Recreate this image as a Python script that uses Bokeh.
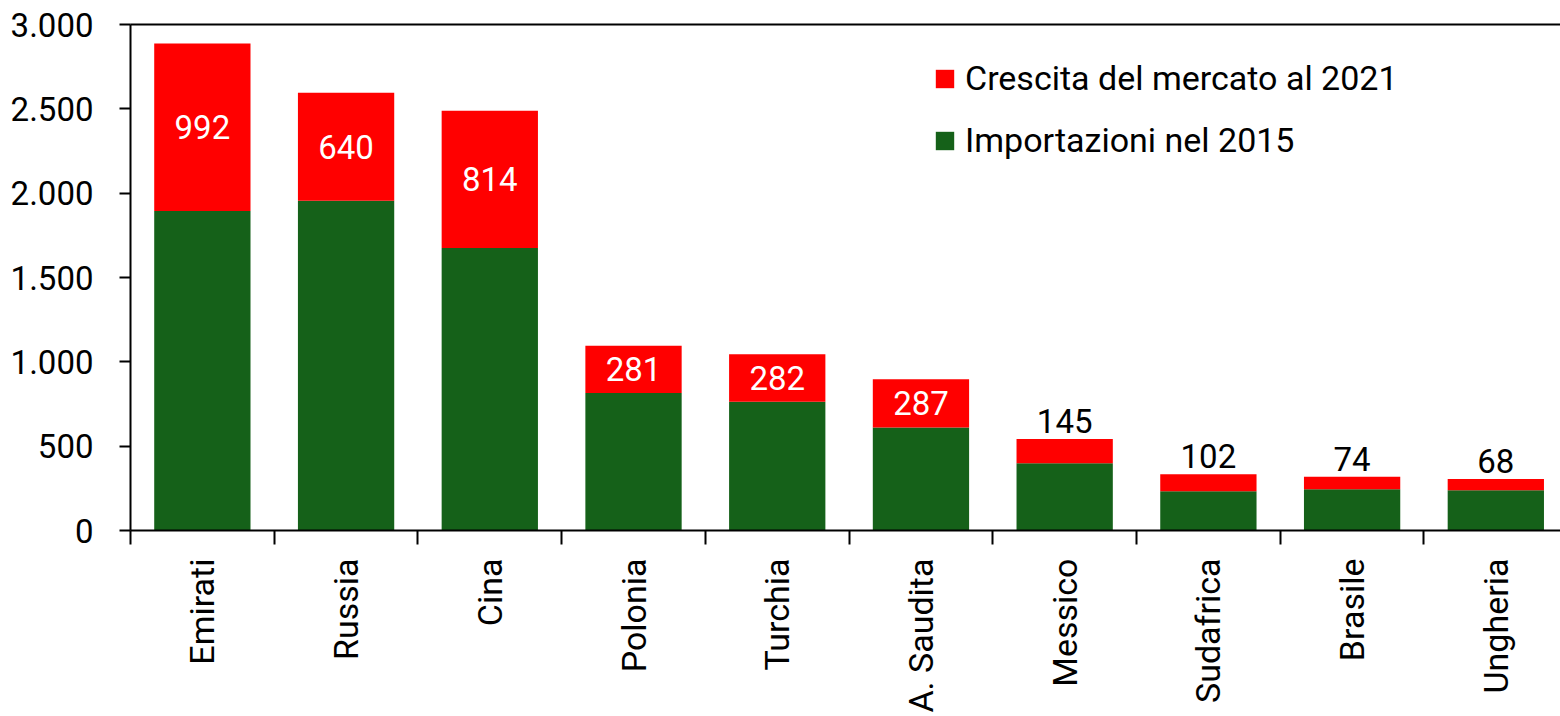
import math
from bokeh.plotting import figure
from bokeh.models import (ColumnDataSource, FixedTicker, LinearAxis, Range1d,
                          Legend, LegendItem)
from bokeh.embed import file_html
from bokeh.resources import INLINE

categories = ["Emirati", "Russia", "Cina", "Polonia", "Turchia", "A. Saudita",
              "Messico", "Sudafrica", "Brasile", "Ungheria"]
imports_2015 = [1895, 1955, 1675, 815, 763, 610, 398, 232, 244, 238]
growth_2021 = [992, 640, 814, 281, 282, 287, 145, 102, 74, 68]
y_ticks = [0, 500, 1000, 1500, 2000, 2500, 3000]
y_tick_labels = ["0", "500", "1.000", "1.500", "2.000", "2.500", "3.000"]
series_names = ["Importazioni nel 2015", "Crescita del mercato al 2021"]

GREEN = "#156119"
RED = "#FF0000"
FONT = "Roboto"

centers = [i + 0.5 for i in range(len(categories))]
src = ColumnDataSource(dict(x=centers, imp=imports_2015, gro=growth_2021))

p = figure(width=1560, height=716, output_backend="svg", toolbar_location=None,
           x_range=Range1d(0, 9.95), y_range=Range1d(0, 3000),
           min_border_left=130, min_border_top=24, min_border_bottom=186,
           min_border_right=0)
p.outline_line_color = None
p.grid.visible = False

rs = p.vbar_stack(["imp", "gro"], x="x", width=0.67, source=src,
                  color=[GREEN, RED], line_color=None)

# data labels
inside = [i for i, g in enumerate(growth_2021) if g > 200]
outside = [i for i, g in enumerate(growth_2021) if g <= 200]
src_in = ColumnDataSource(dict(
    x=[centers[i] for i in inside],
    y=[imports_2015[i] + growth_2021[i] / 2 for i in inside],
    t=[str(growth_2021[i]) for i in inside]))
src_out = ColumnDataSource(dict(
    x=[centers[i] for i in outside],
    y=[imports_2015[i] + growth_2021[i] for i in outside],
    t=[str(growth_2021[i]) for i in outside]))
p.text(x="x", y="y", text="t", source=src_in, text_color="white",
       text_align="center", text_baseline="middle", text_font_size="33px",
       text_font={"value": FONT})
p.text(x="x", y="y", text="t", source=src_out, text_color="black",
       text_align="center", text_baseline="bottom", text_font_size="33px",
       y_offset=-6, text_font={"value": FONT})

# y axis
yax = p.yaxis[0]
yax.ticker = FixedTicker(ticks=y_ticks)
yax.major_label_overrides = {t: l for t, l in zip(y_ticks, y_tick_labels)}
yax.major_tick_out = 11
yax.major_tick_in = 0
yax.minor_tick_line_color = None
yax.major_label_standoff = 26
yax.axis_line_width = 2
yax.major_tick_line_width = 2
yax.axis_line_color = "black"
yax.major_tick_line_color = "black"
yax.major_label_text_font = FONT
yax.major_label_text_font_size = "33px"
yax.major_label_text_color = "black"

# x axis
xax = p.xaxis[0]
xax.ticker = FixedTicker(ticks=centers, minor_ticks=list(range(len(categories) + 1)))
xax.major_label_overrides = {c: n for c, n in zip(centers, categories)}
xax.major_tick_line_color = None
xax.major_tick_out = 14
xax.major_tick_in = 0
xax.minor_tick_out = 14
xax.minor_tick_in = 0
xax.minor_tick_line_color = "black"
xax.minor_tick_line_width = 2
xax.axis_line_width = 2
xax.axis_line_color = "black"
xax.major_label_orientation = math.pi / 2
xax.major_label_standoff = 14
xax.major_label_text_font = FONT
xax.major_label_text_font_size = "34px"
xax.major_label_text_color = "black"

# top border line
top = LinearAxis(ticker=FixedTicker(ticks=[]), axis_line_width=2,
                 axis_line_color="black", major_label_text_font_size="0px",
                 major_tick_line_color=None, minor_tick_line_color=None)
p.add_layout(top, "above")

legend = Legend(items=[LegendItem(label=series_names[1], renderers=[rs[1]]),
                       LegendItem(label=series_names[0], renderers=[rs[0]])],
                location=(803, 370), orientation="vertical")
legend.glyph_width = 23
legend.glyph_height = 23
legend.label_standoff = 9
legend.spacing = 22
legend.padding = 0
legend.margin = 0
legend.border_line_color = None
legend.background_fill_alpha = 0
legend.label_text_font = FONT
legend.label_text_font_size = "34px"
legend.label_text_color = "black"
p.add_layout(legend)

open("out.html", "w").write(file_html(p, INLINE))
